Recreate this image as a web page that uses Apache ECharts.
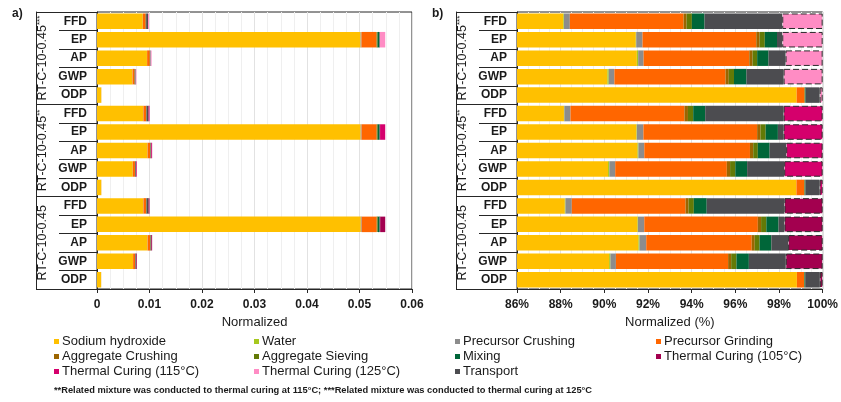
<!DOCTYPE html>
<html>
<head>
<meta charset="utf-8">
<script src="https://cdn.jsdelivr.net/npm/echarts@6/dist/echarts.min.js"></script>
<style>
  html, body { margin: 0; padding: 0; background: #fff; }
  #chart { width: 841px; height: 402px; }
</style>
</head>
<body>
<div id="chart"></div>
<script>
// Mixtures (outer category level) and impact indicators (inner level)
const groups = ['RT-C-10-0.45***', 'RT-C-10-0.45**', 'RT-C-10-0.45'];
const indicators = ['FFD', 'EP', 'AP', 'GWP', 'ODP'];

// Normalized total impact per row (panel a), rows ordered group by group
const totals = [0.0099, 0.0549, 0.0104, 0.0075, 0.00083,
                0.0100, 0.0549, 0.0105, 0.00756, 0.00083,
                0.0100, 0.0549, 0.0105, 0.0076, 0.0008];

// Contribution of each process to the row total, in % (panel b)
const sodiumHydroxide   = [88.12, 91.44, 91.49, 90.14, 98.81, 88.15, 91.47, 91.52, 90.17, 98.80, 88.19, 91.52, 91.56, 90.22, 98.82];
const water             = [0.03, 0.02, 0.06, 0.06, 0, 0.02, 0.02, 0.04, 0.06, 0, 0.03, 0.02, 0.05, 0.06, 0];
const precursorCrushing = [0.27, 0.29, 0.25, 0.26, 0, 0.28, 0.30, 0.27, 0.27, 0, 0.29, 0.29, 0.31, 0.25, 0];
const precursorGrinding = [5.21, 5.21, 4.84, 5.09, 0.36, 5.22, 5.21, 4.84, 5.11, 0.36, 5.21, 5.20, 4.83, 5.14, 0.33];
const aggregateCrushing = [0.14, 0.15, 0.15, 0.15, 0, 0.16, 0.15, 0.15, 0.15, 0, 0.14, 0.15, 0.14, 0.14, 0];
const aggregateSieving  = [0.24, 0.24, 0.21, 0.24, 0.02, 0.24, 0.24, 0.21, 0.24, 0.02, 0.24, 0.24, 0.22, 0.24, 0.02];
const mixing            = [0.58, 0.56, 0.52, 0.57, 0.03, 0.55, 0.56, 0.54, 0.54, 0.03, 0.59, 0.56, 0.54, 0.57, 0.03];
const transport         = [3.56, 0.24, 0.78, 1.70, 0.64, 3.59, 0.26, 0.76, 1.70, 0.65, 3.56, 0.27, 0.77, 1.69, 0.67];
const curing105 = [null, null, null, null, null, null, null, null, null, null, 1.75, 1.75, 1.58, 1.69, 0.13];
const curing115 = [null, null, null, null, null, 1.79, 1.79, 1.67, 1.76, 0.14, null, null, null, null, null];
const curing125 = [1.85, 1.85, 1.70, 1.79, 0.14, null, null, null, null, null, null, null, null, null, null];

// Process names, in stacking order
const processNames = ['Sodium hydroxide', 'Water', 'Precursor Crushing', 'Precursor Grinding',
  'Aggregate Crushing', 'Aggregate Sieving', 'Mixing', 'Transport',
  'Thermal Curing (105°C)', 'Thermal Curing (115°C)', 'Thermal Curing (125°C)'];
const processShares = [sodiumHydroxide, water, precursorCrushing, precursorGrinding,
  aggregateCrushing, aggregateSieving, mixing, transport, curing105, curing115, curing125];

// Styling
const processColors = {
  'Sodium hydroxide': '#FFC000',
  'Water': '#A6C81E',
  'Precursor Crushing': '#8C8C8C',
  'Precursor Grinding': '#FF6600',
  'Aggregate Crushing': '#9C6500',
  'Aggregate Sieving': '#637A06',
  'Mixing': '#006639',
  'Transport': '#4C4C50',
  'Thermal Curing (105°C)': '#A3004F',
  'Thermal Curing (115°C)': '#D5006C',
  'Thermal Curing (125°C)': '#FF8CC4'
};
const legendColumns = [
  ['Sodium hydroxide', 'Aggregate Crushing', 'Thermal Curing (115°C)'],
  ['Water', 'Aggregate Sieving', 'Thermal Curing (125°C)'],
  ['Precursor Crushing', 'Mixing', 'Transport'],
  ['Precursor Grinding', 'Thermal Curing (105°C)']
];
const legendLefts = [54, 254, 455, 656];

const FONT = '"Liberation Sans", Arial, sans-serif';
const INK = '#1a1a1a';
const LINE = '#262626';

// Unique keys for the inner category level: "<group index>|<indicator>"
const rowKeys = groups.flatMap((g, gi) => indicators.map(ind => gi + '|' + ind));

function groupLabel(v) {
  const m = v.match(/^(.*?)(\*+)$/);
  return m ? '{a|' + m[1] + '}{s|' + m[2] + '}' : '{a|' + v + '}';
}

function categoryAxes(gridIndex) {
  return [
    { // indicator labels with short separators between rows
      gridIndex, type: 'category', data: rowKeys, inverse: true, position: 'left',
      axisLine: { show: true, lineStyle: { color: LINE, width: 1 } },
      axisTick: { show: true, interval: 0, length: 38, lineStyle: { color: LINE } },
      axisLabel: { interval: 0, margin: 10, fontFamily: FONT, fontSize: 12, fontWeight: 'bold', color: INK,
                   formatter: v => v.split('|')[1] },
      splitLine: { show: false }
    },
    { // mixture labels with long separators between groups
      gridIndex, type: 'category', data: groups, inverse: true, position: 'left', offset: 0,
      axisLine: { show: false },
      axisTick: { show: true, interval: 0, length: 61, lineStyle: { color: LINE } },
      axisLabel: { interval: 0, rotate: 90, margin: 48, formatter: groupLabel,
        rich: {
          a: { fontFamily: FONT, fontSize: 12.5, color: INK },
          s: { fontFamily: FONT, fontSize: 8, color: INK, verticalAlign: 'top' }
        } },
      splitLine: { show: false }
    },
    { // outer frame line of the category labels
      gridIndex, type: 'category', data: groups, inverse: true, position: 'left', offset: 61,
      axisLine: { show: true, lineStyle: { color: LINE, width: 1 } },
      axisTick: { show: false }, axisLabel: { show: false }, splitLine: { show: false }
    }
  ];
}

function valueAxis(gridIndex, min, max, interval, name, fmt) {
  return {
    gridIndex, type: 'value', min, max, interval, name,
    nameLocation: 'middle', nameGap: 24,
    nameTextStyle: { fontFamily: FONT, fontSize: 13, color: INK },
    axisLine: { show: true, lineStyle: { color: LINE, width: 1 } },
    axisTick: { show: true, length: 4, lineStyle: { color: LINE } },
    axisLabel: { margin: 10, fontFamily: FONT, fontSize: 12, fontWeight: 'bold', color: INK, formatter: fmt },
    splitLine: { show: true, lineStyle: { color: '#e2e2e2', width: 1 } },
    minorTick: { show: false, splitNumber: 4 },
    minorSplitLine: { show: true, lineStyle: { color: '#efefef', width: 1 } }
  };
}

const series = [];
processNames.forEach((name, pi) => {
  const shares = processShares[pi];
  const isCuring = name.startsWith('Thermal Curing');
  // panel a: absolute normalized contribution
  series.push({
    name, type: 'bar', stack: 'abs', xAxisIndex: 0, yAxisIndex: 0,
    barCategoryGap: '16%',
    itemStyle: { color: processColors[name] },
    emphasis: { disabled: true },
    data: shares.map((s, i) => s == null ? '-' : totals[i] * s / 100)
  });
  // panel b: percentage share
  series.push({
    name, type: 'bar', stack: 'pct', xAxisIndex: 1, yAxisIndex: 3,
    barCategoryGap: '16%',
    itemStyle: isCuring
      ? { color: processColors[name], borderColor: '#2a2a2a', borderWidth: 1, borderType: [6, 3] }
      : { color: processColors[name] },
    emphasis: { disabled: true },
    data: shares.map(s => s == null ? '-' : s)
  });
});

const option = {
  backgroundColor: '#ffffff',
  animation: false,
  grid: [
    { left: 97, right: 429, top: 12, bottom: 113, show: true, borderColor: LINE, borderWidth: 1, backgroundColor: 'transparent' },
    { left: 517, right: 15, top: 12, bottom: 113, show: true, borderColor: LINE, borderWidth: 1, backgroundColor: 'transparent' }
  ],
  xAxis: [
    valueAxis(0, 0, 0.06, 0.01, 'Normalized', v => String(+v.toFixed(2))),
    valueAxis(1, 86, 100, 2, 'Normalized (%)', v => v + '%')
  ],
  yAxis: [...categoryAxes(0), ...categoryAxes(1)],
  legend: legendColumns.map((col, ci) => ({
    orient: 'vertical', left: legendLefts[ci], top: 334, padding: 0, itemGap: 0,
    itemWidth: 5, itemHeight: 5, icon: 'rect', selectedMode: false,
    itemStyle: { borderWidth: 0 },
    textStyle: { fontFamily: FONT, fontSize: 13, color: INK, lineHeight: 15, padding: [0, 0, 0, -2] },
    data: col
  })),
  graphic: [
    { type: 'text', left: 12, top: 8, style: { text: 'a)', font: 'bold 12px ' + FONT, fill: INK } },
    { type: 'text', left: 432, top: 8, style: { text: 'b)', font: 'bold 12px ' + FONT, fill: INK } },
    { type: 'text', left: 54, top: 386,
      style: { text: '**Related mixture was conducted to thermal curing at 115°C; ***Related mixture was conducted to thermal curing at 125°C',
               font: 'bold 9.3px ' + FONT, fill: INK } }
  ],
  series
};

const chart = echarts.init(document.getElementById('chart'));
chart.setOption(option);
</script>
</body>
</html>
